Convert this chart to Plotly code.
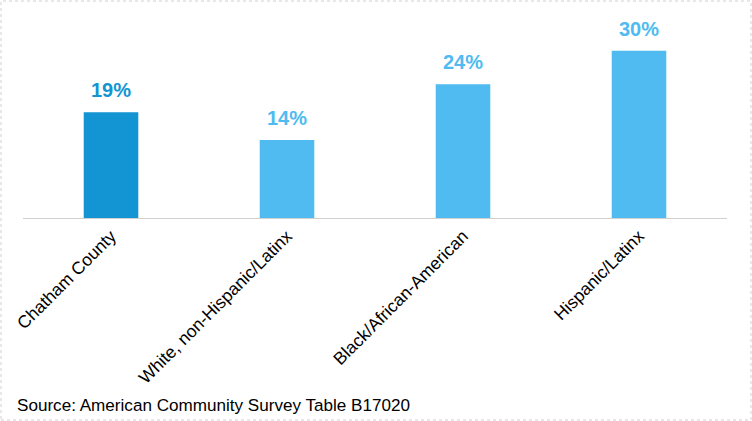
import plotly.graph_objects as go

categories = ["Chatham County", "White, non-Hispanic/Latinx", "Black/African-American", "Hispanic/Latinx"]
values = [0.19, 0.14, 0.24, 0.30]
value_labels = ["19%", "14%", "24%", "30%"]
colors = ["#1395D3", "#4FBBF0", "#4FBBF0", "#4FBBF0"]
source_text = "Source: American Community Survey Table B17020"

W, H = 752, 421
L, R, T, B = 23, 25, 23, 203
pw, ph = W - L - R, H - T - B

fig = go.Figure()
fig.add_trace(go.Bar(x=categories, y=values, marker=dict(color=colors, line=dict(width=0)),
                     width=0.31, hoverinfo="skip"))

for c, v, t, col in zip(categories, values, value_labels, colors):
    fig.add_annotation(x=c, y=v, text="<b>%s</b>" % t, showarrow=False, yanchor="bottom",
                       yshift=9, font=dict(size=20, color=col, family="Liberation Sans"))

fig.add_annotation(xref="paper", yref="paper", x=(15 - L) / pw, y=(T + ph - 405) / ph,
                   xanchor="left", yanchor="middle", text=source_text, showarrow=False,
                   font=dict(size=17.1, color="#000000", family="Liberation Sans"))

fig.add_shape(type="rect", xref="paper", yref="paper",
              x0=(1 - L) / pw, x1=(W - 1 - L) / pw,
              y0=(T + ph - (H - 1)) / ph, y1=(T + ph - 1) / ph,
              line=dict(color="#D0D0D0", width=1, dash="dot"))

fig.update_layout(
    width=W, height=H, margin=dict(l=L, r=R, t=T, b=B),
    paper_bgcolor="white", plot_bgcolor="white", showlegend=False,
    xaxis=dict(tickangle=-45, showline=True, linecolor="#D0D0D0", linewidth=1,
               tickfont=dict(size=17.5, color="#000000", family="Liberation Sans"),
               ticks="", showgrid=False),
    yaxis=dict(range=[0, 0.35], visible=False, showgrid=False),
)

fig.write_html("out.html", config={"displayModeBar": False},
               post_script="document.body.style.margin='0';document.body.style.overflow='hidden';")
